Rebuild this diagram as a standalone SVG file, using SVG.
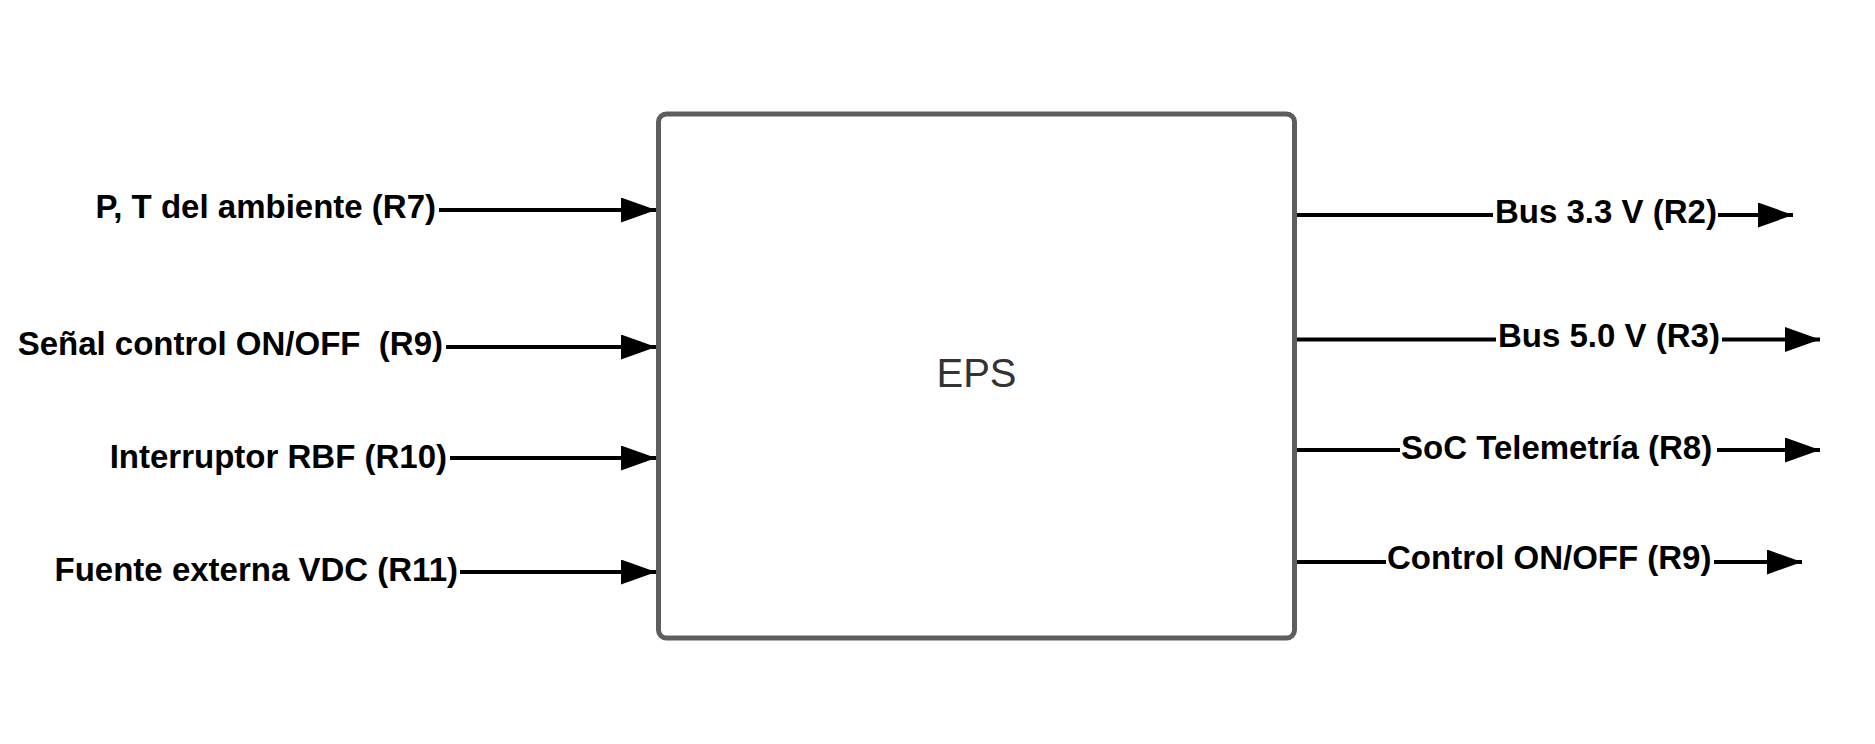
<svg xmlns="http://www.w3.org/2000/svg" width="1875" height="744" viewBox="0 0 1875 744">
<style>
.lbl{font-family:"Liberation Sans",Arial,sans-serif;font-weight:bold;font-size:33px;fill:#000}
.ln{stroke:#000;stroke-width:4;fill:none}
.box{fill:#fff;stroke:#5e5e5e;stroke-width:5}
.title{font-family:"Liberation Sans",Arial,sans-serif;font-size:40px;fill:#333}
</style>
<defs>
<marker id="ah" markerUnits="userSpaceOnUse" markerWidth="36" markerHeight="26" refX="35" refY="12.5" orient="auto" viewBox="0 0 36 26">
<path d="M0,0 L35,12.5 L0,25 z" fill="#000"/>
</marker>
</defs>
<rect width="1875" height="744" fill="#fff"/>
<g id="eps">
<rect class="box" x="658.5" y="114" width="636" height="524" rx="8"/>
<text class="title" x="976.5" y="387" text-anchor="middle">EPS</text>
</g>
<g id="connectors">
<line class="ln" x1="439" y1="210" x2="656" y2="210" marker-end="url(#ah)"/>
<line class="ln" x1="446" y1="347" x2="656" y2="347" marker-end="url(#ah)"/>
<line class="ln" x1="450" y1="458" x2="656" y2="458" marker-end="url(#ah)"/>
<line class="ln" x1="460" y1="572" x2="656" y2="572" marker-end="url(#ah)"/>
<line class="ln" x1="1297" y1="215" x2="1493" y2="215"/>
<line class="ln" x1="1718" y1="215" x2="1793" y2="215" marker-end="url(#ah)"/>
<line class="ln" x1="1297" y1="339.5" x2="1496" y2="339.5"/>
<line class="ln" x1="1722" y1="339.5" x2="1820" y2="339.5" marker-end="url(#ah)"/>
<line class="ln" x1="1297" y1="450" x2="1400" y2="450"/>
<line class="ln" x1="1717" y1="450" x2="1820" y2="450" marker-end="url(#ah)"/>
<line class="ln" x1="1297" y1="562" x2="1386" y2="562"/>
<line class="ln" x1="1714" y1="562" x2="1802" y2="562" marker-end="url(#ah)"/>
</g>
<g id="in-pt"><text class="lbl" x="436" y="218" text-anchor="end">P, T del ambiente (R7)</text></g>
<g id="in-senal"><text class="lbl" x="443" y="355" text-anchor="end">Señal control ON/OFF&#160; (R9)</text></g>
<g id="in-rbf"><text class="lbl" x="447" y="468" text-anchor="end">Interruptor RBF (R10)</text></g>
<g id="in-fuente"><text class="lbl" x="458" y="581" text-anchor="end">Fuente externa VDC (R11)</text></g>
<g id="out-bus33"><text class="lbl" x="1495" y="223">Bus 3.3 V (R2)</text></g>
<g id="out-bus50"><text class="lbl" x="1498" y="347">Bus 5.0 V (R3)</text></g>
<g id="out-soc"><text class="lbl" x="1401" y="459">SoC Telemetría (R8)</text></g>
<g id="out-ctrl"><text class="lbl" x="1387" y="569">Control ON/OFF (R9)</text></g>
</svg>
